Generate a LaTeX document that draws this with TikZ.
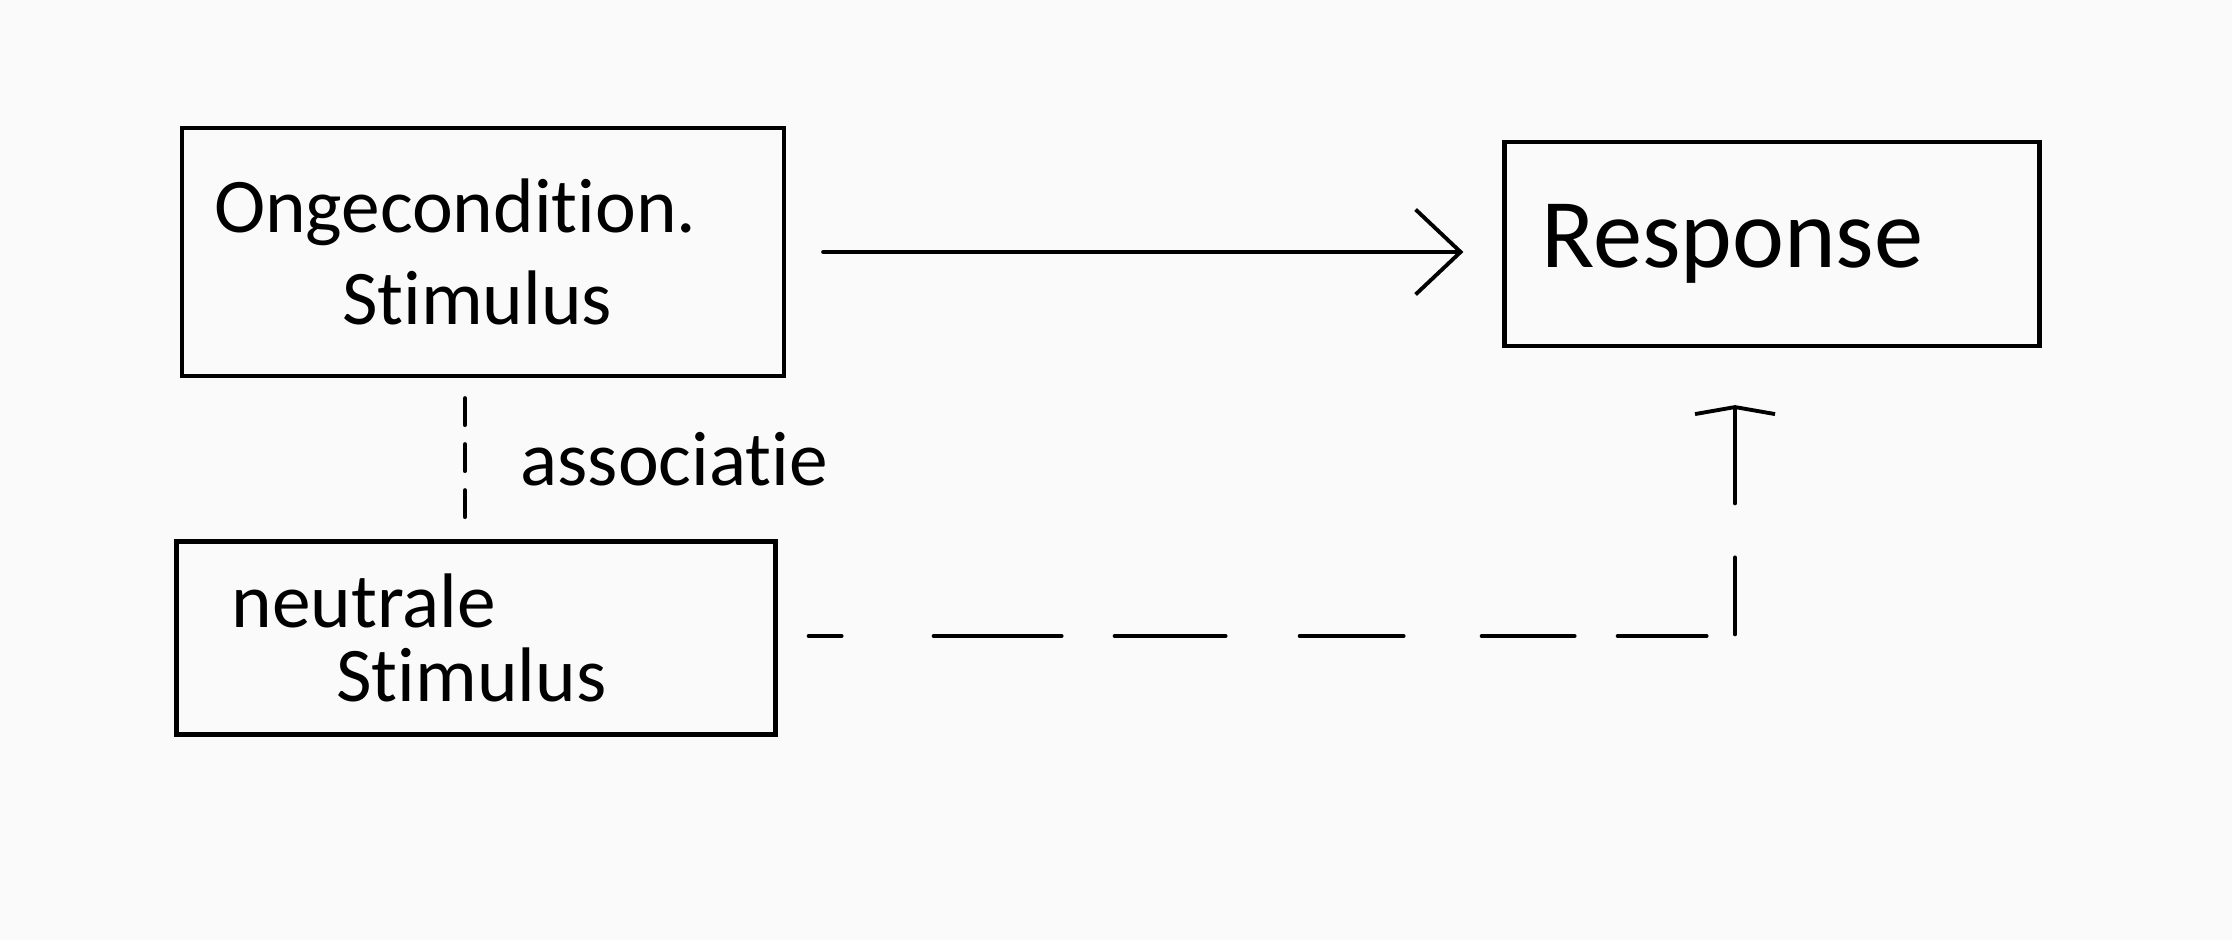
\documentclass[tikz,border=0pt]{standalone}
\usepackage{fontspec}
\setmainfont{Carlito}[Ligatures=NoCommon]
\usetikzlibrary{arrows.meta}

\tikzset{
        stimbox/.style={draw, line width=1.2pt, align=left, anchor=center},
        link/.style={line width=1.1pt, line cap=round},
}

\begin{document}
\begin{tikzpicture}
        \fill[color={rgb,255:red,250;green,250;blue,250}] (0,0) rectangle (22.32,9.40);
        \useasboundingbox (0,0) rectangle (22.32,9.40);

        \node[stimbox, minimum height=2.48cm, inner xsep=0.32cm, text width=5.38cm,
              font=\fontsize{22}{26}\selectfont] (ucs) at (4.83,6.88)
              {Ongecondition.\\\hspace*{1.28cm}Stimulus};
        \node[stimbox, minimum height=2.04cm, inner xsep=0.37cm, text width=4.61cm,
              font=\fontsize{28}{32}\selectfont] (resp) at (17.72,6.96) {Response};
        \node[stimbox, minimum height=1.93cm, inner xsep=0.55cm, text width=4.89cm,
              font=\fontsize{22}{21}\selectfont] (ns) at (4.76,3.02)
              {neutrale\\\hspace*{1.05cm}Stimulus};

        \coordinate (bend) at (17.35,3.04);

        \draw[link, -{Straight Barb[length=4.5mm,width=8.5mm]}, shorten <=0.37cm, shorten >=0.39cm]
              (ucs.east) -- (ucs.east -| resp.west);
        \draw[link, dash pattern=on 0.27cm off 0.19cm, shorten <=0.2cm, shorten >=0.21cm]
              ([xshift=-1.8mm]ucs.south) -- ([xshift=-1.8mm]ucs.south |- ns.north)
              node[midway, right=0.42cm, font=\fontsize{22}{26}\selectfont] (assoc) {associatie};
        \draw[link, dash pattern=on 0.33cm off 0.92cm on 1.28cm off 0.53cm on 1.11cm off 0.74cm
              on 1.04cm off 0.78cm on 0.93cm off 0.43cm on 0.89cm off 0.30cm
              on 0.77cm off 0.54cm on 1.2cm off 1cm, shorten <=0.31cm,
              -{Straight Barb[length=0.7mm,width=8mm]}, shorten >=0.57cm]
              (ns.east |- bend) -- (bend) -- (bend |- resp.south);
\end{tikzpicture}
\end{document}
